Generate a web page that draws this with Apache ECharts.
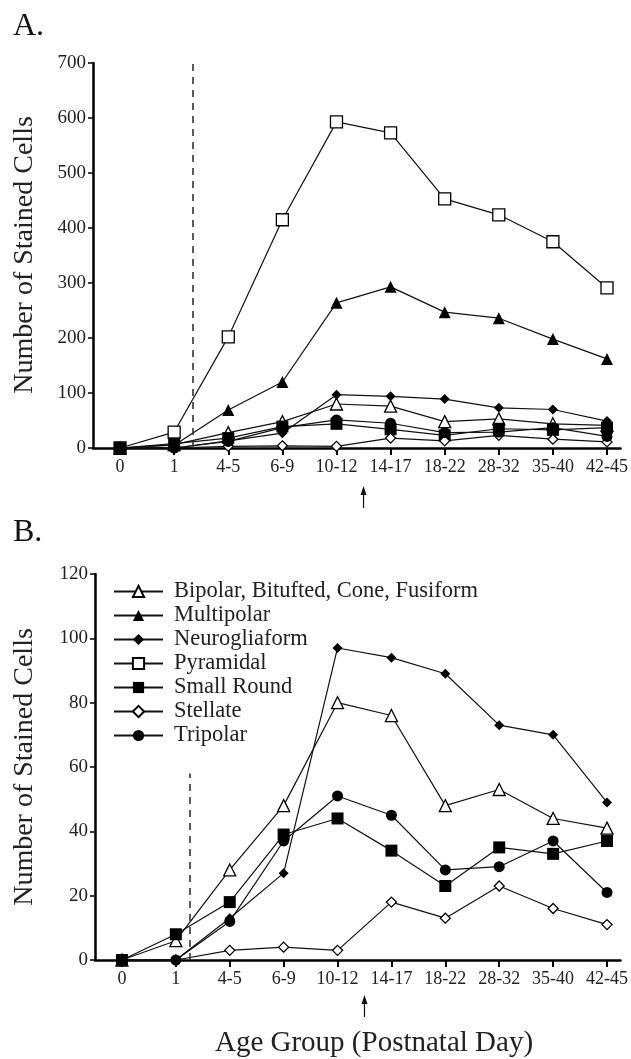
<!DOCTYPE html>
<html>
<head>
<meta charset="utf-8">
<script src="https://cdn.jsdelivr.net/npm/echarts@6/dist/echarts.min.js"></script>
<style>
  html, body { margin: 0; padding: 0; background: #fff; }
  #chart { width: 631px; height: 1059px; }
</style>
</head>
<body>
<div id="chart"></div>
<script>
// age groups (postnatal day)
var categories = ["0", "1", "4-5", "6-9", "10-12", "14-17", "18-22", "28-32", "35-40", "42-45"];

// number of stained cells per cell type
var bipolar = [0, 6, 28, 48, 80, 76, 48, 53, 44, 41];
var multipolar = [0, 5, 69, 120, 264, 293, 247, 236, 198, 162];
var neurogliaform = [0, 0, 13, 27, 97, 94, 89, 73, 70, 49];
var pyramidal = [0, 29, 202, 415, 593, 573, 453, 424, 375, 291];
var smallRound = [0, 8, 18, 39, 44, 34, 23, 35, 33, 37];
var stellate = [0, 0, 3, 4, 3, 18, 13, 23, 16, 11];
var tripolar = [0, 0, 12, 37, 51, 45, 28, 29, 37, 21];

var ticksA = [0, 100, 200, 300, 400, 500, 600, 700];
var ticksB = [0, 20, 40, 60, 80, 100, 120];

var FONT = "Liberation Serif";
var chart = echarts.init(document.getElementById("chart"));

function pts(arr) {
  return arr.map(function (v, i) { return [i, v]; });
}

var cellTypes = [
  { name: "Bipolar, Bitufted, Cone, Fusiform", data: bipolar, symbol: "triangle", size: 12, open: true, inB: true },
  { name: "Multipolar", data: multipolar, symbol: "triangle", size: 12, open: false, inB: false },
  { name: "Neurogliaform", data: neurogliaform, symbol: "diamond", size: 10, open: false, inB: true },
  { name: "Pyramidal", data: pyramidal, symbol: "rect", size: 12, open: true, inB: false },
  { name: "Small Round", data: smallRound, symbol: "rect", size: 12, open: false, inB: true },
  { name: "Stellate", data: stellate, symbol: "diamond", size: 10, open: true, inB: true },
  { name: "Tripolar", data: tripolar, symbol: "circle", size: 11, open: false, inB: true }
];

function makeSeries(t, idx) {
  return {
    name: t.name,
    type: "line",
    xAxisIndex: idx,
    yAxisIndex: idx,
    data: idx === 1 && !t.inB ? [] : pts(t.data),
    symbol: t.symbol,
    symbolSize: t.size,
    showAllSymbol: true,
    lineStyle: { color: "#111", width: 1.2 },
    itemStyle: {
      color: t.open ? "#fff" : "#000",
      borderColor: "#000",
      borderWidth: t.open ? 1.3 : 0
    },
    emphasis: { disabled: true },
    animation: false
  };
}

function dashLine(idx, x, top) {
  return {
    name: "dash",
    type: "line",
    xAxisIndex: idx,
    yAxisIndex: idx,
    data: [],
    silent: true,
    markLine: {
      silent: true,
      symbol: ["none", "none"],
      label: { show: false },
      lineStyle: { color: "#333", type: [7, 6], width: 1.6 },
      data: [[{ coord: [x, 0] }, { coord: [x, top] }]]
    }
  };
}

function xAxisCfg(gi) {
  var idx = categories.map(function (c, i) { return i; });
  return {
    type: "value",
    gridIndex: gi,
    min: -0.5,
    max: 9.25,
    axisLine: { onZero: false, lineStyle: { color: "#000", width: 2.5 } },
    axisTick: { customValues: idx, length: 7, lineStyle: { color: "#000", width: 2 } },
    axisLabel: {
      customValues: idx,
      formatter: function (v) { return categories[v]; },
      fontFamily: FONT, fontSize: 18, color: "#222", margin: 10
    },
    splitLine: { show: false }
  };
}

function yAxisCfg(gi, ticks) {
  return {
    type: "value",
    gridIndex: gi,
    min: ticks[0],
    max: ticks[ticks.length - 1],
    interval: ticks[1] - ticks[0],
    axisLine: { show: true, onZero: false, lineStyle: { color: "#000", width: 2.5 } },
    axisTick: { show: true, length: 5, lineStyle: { color: "#000", width: 1.5 } },
    axisLabel: { fontFamily: FONT, fontSize: 19, color: "#222", margin: 7 },
    splitLine: { show: false }
  };
}

var series = [];
cellTypes.forEach(function (t) { series.push(makeSeries(t, 0)); });
cellTypes.forEach(function (t) { series.push(makeSeries(t, 1)); });
series.push(dashLine(0, 1.34, 700), dashLine(1, 1.25, 58));

var option = {
  backgroundColor: "#fff",
  animation: false,
  title: [
    { text: "A.", left: 8, top: 6, textStyle: { fontFamily: FONT, fontSize: 32, fontWeight: "normal", color: "#111" } },
    { text: "B.", left: 8, top: 512, textStyle: { fontFamily: FONT, fontSize: 32, fontWeight: "normal", color: "#111" } }
  ],
  grid: [
    { left: 93, top: 63, width: 530, height: 385 },
    { left: 95, top: 574, width: 528, height: 386 }
  ],
  xAxis: [xAxisCfg(0), xAxisCfg(1)],
  yAxis: [yAxisCfg(0, ticksA), yAxisCfg(1, ticksB)],
  legend: {
    data: cellTypes.map(function (t) { return t.name; }),
    orient: "vertical",
    left: 108,
    top: 575,
    itemWidth: 49,
    itemHeight: 14,
    itemGap: 1,
    selectedMode: false,
    textStyle: { fontFamily: FONT, fontSize: 22.5, color: "#222", padding: [0, 0, 0, 6] }
  },
  series: series
};

chart.setOption(option);

// rotated axis titles, bottom title and the arrows under the x axes
var ax = chart.convertToPixel({ xAxisIndex: 0 }, 4.5);
var bx = chart.convertToPixel({ xAxisIndex: 1 }, 4.5);
function arrow(x, y) {
  return {
    type: "group",
    children: [
      { type: "line", shape: { x1: x, y1: y + 6, x2: x, y2: y + 22 }, style: { stroke: "#111", lineWidth: 1.2 } },
      { type: "polygon", shape: { points: [[x, y], [x - 3, y + 9], [x + 3, y + 9]] }, style: { fill: "#111" } }
    ]
  };
}
chart.setOption({
  graphic: [
    { type: "text", x: 25, y: 255, rotation: Math.PI / 2, style: { text: "Number of Stained Cells", font: "28px " + FONT, fill: "#222", align: "center", verticalAlign: "middle" } },
    { type: "text", x: 25, y: 767, rotation: Math.PI / 2, style: { text: "Number of Stained Cells", font: "28px " + FONT, fill: "#222", align: "center", verticalAlign: "middle" } },
    { type: "text", x: 374, y: 1043, style: { text: "Age Group (Postnatal Day)", font: "29px " + FONT, fill: "#222", align: "center", verticalAlign: "middle" } },
    arrow(ax, 486),
    arrow(bx, 995)
  ]
});
</script>
</body>
</html>
